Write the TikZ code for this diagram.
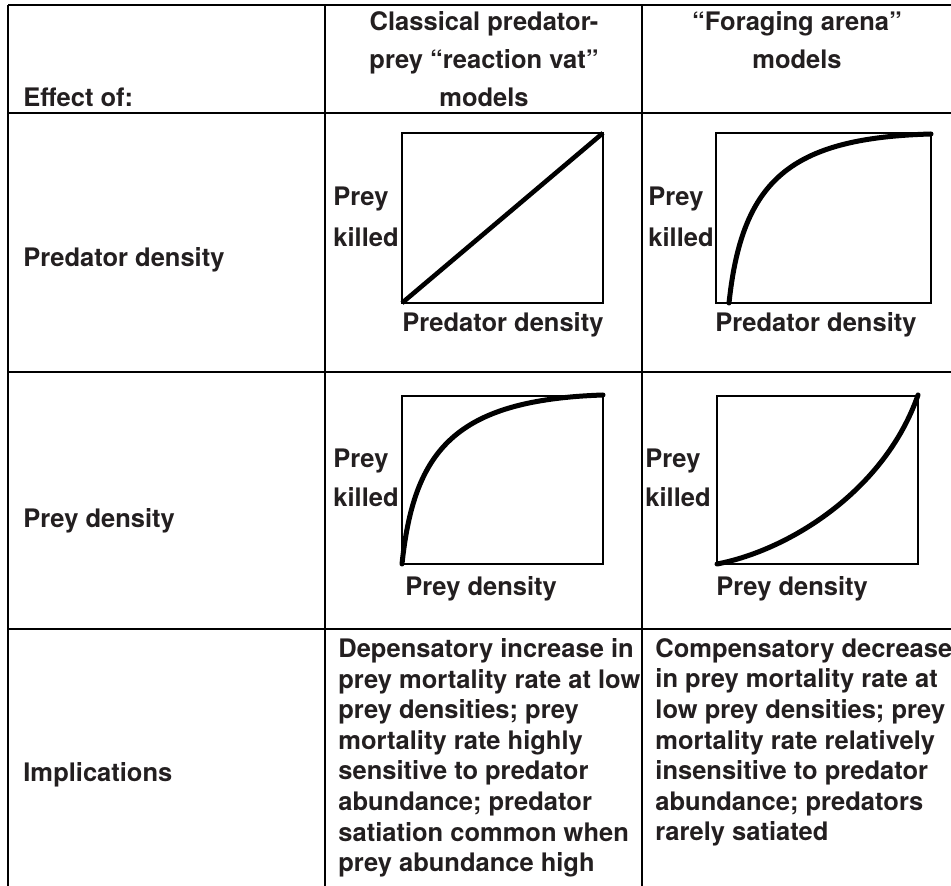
\documentclass[tikz,border=0pt]{standalone}
\usepackage{fontspec}
\setmainfont{TeX Gyre Heros}
\usetikzlibrary{positioning}
\definecolor{ink}{HTML}{231F20}
\tikzset{
  txt/.style={inner sep=0pt,text=ink,font=\bfseries\fontsize{12.75}{15.3}\selectfont},
  head/.style={txt,align=center,font=\bfseries\fontsize{12.75}{19}\selectfont},
  body/.style={txt,align=left,anchor=north west},
  rule/.style={line width=1pt,black},
  frame/.style={line width=0.7pt,black},
  curve/.style={line width=2.5pt,black,line cap=round}
}

\begin{document}
\begin{tikzpicture}[x=0.5pt,y=-0.5pt]
\useasboundingbox (0,0) rectangle (951,886);
% table rules
\draw[rule] (8,5) -- (951,5);
\draw[rule] (8,113) -- (951,113);
\draw[rule] (8,372) -- (951,372);
\draw[rule] (8,629) -- (951,629);
\draw[rule] (8,5) -- (8,886);
\draw[rule] (325,5) -- (325,886);
\draw[rule] (642,5) -- (642,886);

% header
\node[txt,anchor=base west] (effect) at (23,107) {Effect of:};
\node[head,anchor=south] (classic) at (484,107) {Classical predator-\\prey “reaction vat”\\models};
\node[head,anchor=south] (arena) at (797,69) {“Foraging arena”\\models};

% row labels
\node[txt,anchor=base west] (predrow) at (23,267) {Predator density};
\node[txt,anchor=base west] (preyrow) at (23,527) {Prey density};
\node[txt,anchor=base west] (implrow) at (23,781) {Implications};

% predator density, classical
\draw[frame] (402,133) rectangle (603,303);
\draw[line width=2.3pt,black] (402,303) -- (603,133);
\node[txt,anchor=base west] (preyA) at (333,206) {Prey};
\node[txt,anchor=base west] (killA) at (333,247) {killed};
\node[txt,anchor=base west] (axisA) at (402,332) {Predator density};

% predator density, foraging arena
\draw[frame] (716,133) rectangle (931,303);
\draw[curve] (729,303) .. controls (742,180) and (790,138) .. (931,134);
\node[txt,anchor=base west] (preyB) at (648,206) {Prey};
\node[txt,anchor=base west] (killB) at (648,247) {killed};
\node[txt,anchor=base west] (axisB) at (715,332) {Predator density};

% prey density, classical
\draw[frame] (402,396) rectangle (603,564);
\draw[curve] (402,564) .. controls (414,450) and (455,400) .. (603,395);
\node[txt,anchor=base west] (preyC) at (333,468) {Prey};
\node[txt,anchor=base west] (killC) at (333,507) {killed};
\node[txt,anchor=base west] (axisC) at (405,595) {Prey density};

% prey density, foraging arena
\draw[frame] (717,396) rectangle (918,564);
\draw[curve] (717,564) .. controls (790,550) and (885,490) .. (918,395);
\node[txt,anchor=base west] (preyD) at (645,468) {Prey};
\node[txt,anchor=base west] (killD) at (645,507) {killed};
\node[txt,anchor=base west] (axisD) at (716,595) {Prey density};

% implications
\node[body] (implA) at (338,638) {Depensatory increase in\\prey mortality rate at low\\prey densities; prey\\mortality rate highly\\sensitive to predator\\abundance; predator\\satiation common when\\prey abundance high};
\node[body] (implB) at (655,638) {Compensatory decrease\\in prey mortality rate at\\low prey densities; prey\\mortality rate relatively\\insensitive to predator\\abundance; predators\\rarely satiated};
\end{tikzpicture}
\end{document}
